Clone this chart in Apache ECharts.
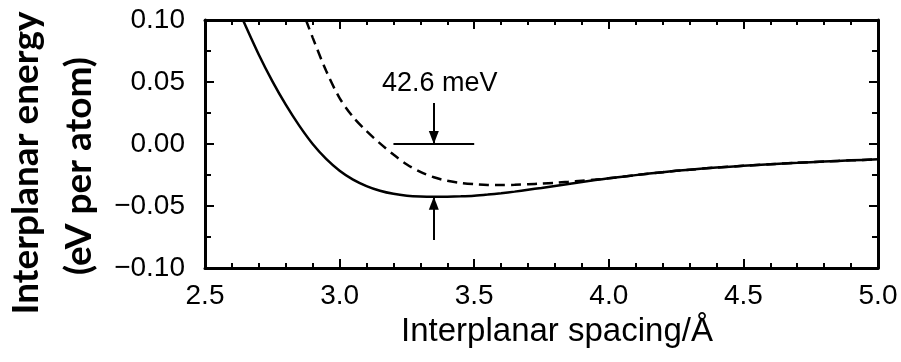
<!DOCTYPE html>
<html>
<head>
<meta charset="utf-8">
<script src="https://cdn.jsdelivr.net/npm/echarts@6/dist/echarts.min.js"></script>
<style>
  html, body { margin: 0; padding: 0; background: #fff; }
  #chart { width: 901px; height: 362px; }
</style>
</head>
<body>
<div id="chart"></div>
<script>
// Interplanar energy versus spacing (eV per atom)
const spacingSolid = [2.641, 2.70, 2.75, 2.80, 2.85, 2.90, 2.95, 3.00, 3.05, 3.10, 3.15, 3.20, 3.25, 3.30, 3.35, 3.40, 3.45, 3.50, 3.55, 3.60, 3.65, 3.70, 3.75, 3.80, 3.85, 3.90, 3.95, 4.00, 4.10, 4.20, 4.30, 4.40, 4.50, 4.60, 4.70, 4.80, 4.90, 5.00];
const energySolid  = [0.100, 0.0720, 0.0507, 0.0317, 0.0148, 0.0000, -0.0120, -0.0215, -0.0287, -0.0339, -0.0377, -0.0402, -0.0417, -0.0424, -0.0426, -0.0425, -0.0422, -0.0417, -0.0408, -0.0397, -0.0384, -0.0369, -0.0354, -0.0338, -0.0322, -0.0306, -0.0291, -0.0277, -0.0251, -0.0227, -0.0207, -0.0190, -0.0176, -0.0163, -0.0152, -0.0141, -0.0132, -0.0123];

const spacingDashed = [2.875, 2.90, 2.95, 3.00, 3.05, 3.10, 3.15, 3.20, 3.25, 3.30, 3.35, 3.40, 3.45, 3.50, 3.55, 3.60, 3.65, 3.70, 3.75, 3.80, 3.85, 3.90, 3.95, 4.00, 4.10, 4.20, 4.30, 4.40, 4.50, 4.60, 4.70, 4.80, 4.90, 5.00];
const energyDashed  = [0.100, 0.0858, 0.0590, 0.0370, 0.0218, 0.0104, 0.0005, -0.0085, -0.0165, -0.0225, -0.0268, -0.0297, -0.0314, -0.0324, -0.0330, -0.0331, -0.0329, -0.0325, -0.0319, -0.0313, -0.0305, -0.0296, -0.0287, -0.0277, -0.0251, -0.0227, -0.0207, -0.0190, -0.0176, -0.0163, -0.0152, -0.0141, -0.0132, -0.0123];

// Well depth marked between the two arrows (eV)
const wellDepth = 0.0426;
const wellSpacing = 3.35;
const baseLevel = 0.0;
const baseSegment = [3.2, 3.5];
const upperArrowStart = 0.033;
const lowerArrowStart = -0.0774;
const depthLabelPos = [3.372, 0.0485];

// Axis ranges and tick labels
const xRange = [2.5, 5.0];
const xStep = 0.5;
const yRange = [-0.10, 0.10];
const yStep = 0.05;
const xTickLabels = ['2.5', '3.0', '3.5', '4.0', '4.5', '5.0'];
const yTickLabels = ['\u22120.10', '\u22120.05', '0.00', '0.05', '0.10'];

const textFont = "'Liberation Sans', Arial, Helvetica, sans-serif";

function xLabel(v) {
  const i = Math.round((v - xRange[0]) / xStep);
  return xTickLabels[i] !== undefined ? xTickLabels[i] : '';
}
function yLabel(v) {
  const i = Math.round((v - yRange[0]) / yStep);
  return yTickLabels[i] !== undefined ? yTickLabels[i] : '';
}

const frameLine = { show: true, onZero: false, lineStyle: { color: '#000', width: 3 } };
const tickStyle = { show: true, inside: true, length: 9, lineStyle: { color: '#000', width: 2 } };

function xAxisCfg(pos, labels) {
  return {
    type: 'value', position: pos, min: xRange[0], max: xRange[1], interval: xStep,
    axisLine: frameLine,
    axisTick: tickStyle,
    minorTick: { show: true, splitNumber: 5, length: 5, lineStyle: { color: '#000', width: 2 } },
    splitLine: { show: false },
    axisLabel: labels ? {
      show: true, formatter: xLabel, fontSize: 28, color: '#000', fontFamily: textFont,
      margin: 14, showMinLabel: true, showMaxLabel: true
    } : { show: false },
    name: labels ? 'Interplanar spacing/\u00C5' : '',
    nameLocation: 'middle',
    nameGap: 47,
    nameTextStyle: { fontSize: 33, color: '#000', fontFamily: textFont, padding: [0, 0, 0, 31] }
  };
}
function yAxisCfg(pos, labels) {
  return {
    type: 'value', position: pos, min: yRange[0], max: yRange[1], interval: yStep,
    axisLine: frameLine,
    axisTick: tickStyle,
    minorTick: { show: true, splitNumber: 2, length: 6, lineStyle: { color: '#000', width: 2 } },
    splitLine: { show: false },
    axisLabel: labels ? {
      show: true, formatter: yLabel, fontSize: 28, color: '#000', fontFamily: textFont,
      margin: 20, showMinLabel: true, showMaxLabel: true
    } : { show: false }
  };
}

const chart = echarts.init(document.getElementById('chart'), null, { renderer: 'canvas' });

const titleFont = "Lato, 'Open Sans', sans-serif";

chart.setOption({
  animation: false,
  backgroundColor: '#fff',
  grid: { left: 205, right: 23, top: 20, bottom: 94, containLabel: false },
  xAxis: [xAxisCfg('bottom', true), xAxisCfg('top', false)],
  yAxis: [yAxisCfg('left', true), yAxisCfg('right', false)],
  graphic: [
    {
      type: 'text', x: 26, y: 163, rotation: Math.PI / 2,
      style: {
        text: 'Interplanar energy', font: "bold 37px " + titleFont,
        fill: '#000', align: 'center', verticalAlign: 'middle'
      }
    },
    {
      type: 'text', x: 79, y: 166, rotation: Math.PI / 2,
      style: {
        text: '(eV per atom)', font: "bold 37px " + titleFont,
        fill: '#000', align: 'center', verticalAlign: 'middle'
      }
    }
  ],
  series: [
    {
      type: 'line',
      data: spacingSolid.map((x, i) => [x, energySolid[i]]),
      showSymbol: false, smooth: 0.3,
      lineStyle: { color: '#000', width: 2.5 },
      z: 3,
      markLine: {
        silent: true,
        animation: false,
        label: { show: false },
        lineStyle: { color: '#000', width: 2, type: 'solid' },
        symbol: ['none', 'triangle'],
        symbolSize: [10, 13],
        symbolOffset: [0, [0, 6.5]],
        data: [
          [{ coord: [wellSpacing, upperArrowStart] }, { coord: [wellSpacing, baseLevel] }],
          [{ coord: [wellSpacing, lowerArrowStart] }, { coord: [wellSpacing, baseLevel - wellDepth] }],
          [{ coord: [baseSegment[0], baseLevel], symbol: 'none' }, { coord: [baseSegment[1], baseLevel], symbol: 'none' }]
        ]
      },
      markPoint: {
        silent: true,
        symbol: 'circle', symbolSize: 0,
        label: {
          show: true, position: 'inside', color: '#000',
          fontSize: 27, fontFamily: textFont,
          formatter: () => (wellDepth * 1000).toFixed(1) + ' meV'
        },
        data: [{ coord: depthLabelPos }]
      }
    },
    {
      type: 'line',
      data: spacingDashed.map((x, i) => [x, energyDashed[i]]),
      showSymbol: false, smooth: 0.3,
      lineStyle: { color: '#000', width: 2.5, type: [10, 6] },
      z: 2
    }
  ]
});
</script>
</body>
</html>
